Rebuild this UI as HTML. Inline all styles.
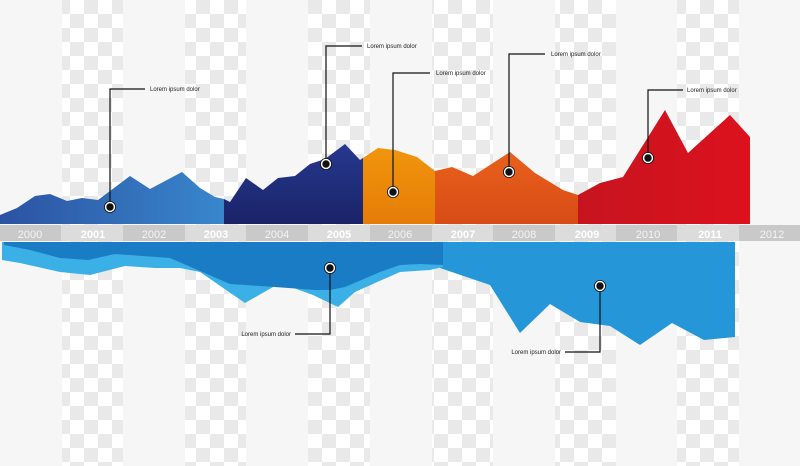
<!DOCTYPE html><html><head><meta charset="utf-8"><style>html,body{margin:0;padding:0;width:800px;height:466px;overflow:hidden;background:#f6f6f6}</style></head><body>
<svg width="800" height="466" viewBox="0 0 800 466" xmlns="http://www.w3.org/2000/svg" font-family="Liberation Sans, sans-serif">
<defs>
<pattern id="ck" x="0" y="0" width="28" height="28" patternUnits="userSpaceOnUse"><rect width="28" height="28" fill="#ffffff"/><rect width="14" height="14" fill="#e9e9e9"/><rect x="14" y="14" width="14" height="14" fill="#e9e9e9"/></pattern>
<linearGradient id="g1" x1="0" x2="1" y1="0" y2="0"><stop offset="0" stop-color="#2c52a3"/><stop offset="1" stop-color="#3887cc"/></linearGradient>
<linearGradient id="g2" x1="0" x2="0" y1="0" y2="1"><stop offset="0" stop-color="#26388e"/><stop offset="1" stop-color="#1a2368"/></linearGradient>
<linearGradient id="g3" x1="0" x2="0" y1="0" y2="1"><stop offset="0" stop-color="#f1950c"/><stop offset="1" stop-color="#e57c08"/></linearGradient>
<linearGradient id="g4" x1="0" x2="0" y1="0" y2="1"><stop offset="0" stop-color="#e8601c"/><stop offset="1" stop-color="#d84c16"/></linearGradient>
<linearGradient id="g5" x1="0" x2="1" y1="0" y2="0"><stop offset="0" stop-color="#c6141f"/><stop offset="1" stop-color="#dc121e"/></linearGradient>
</defs>
<rect width="800" height="466" fill="#f6f6f6"/>
<g fill="url(#ck)">
<rect x="62" y="0" width="61" height="466"/><rect x="185" y="0" width="61" height="466"/><rect x="308" y="0" width="62" height="466"/><rect x="432" y="0" width="61" height="466"/><rect x="555" y="0" width="61" height="466"/><rect x="677" y="0" width="62" height="466"/>
</g>
<polygon fill="url(#g1)" points="0,215 17,208 35,196 50,194 67,201 82,198 98,200 130,176 150,189 182,172 200,188 215,197 224,199 224,224 0,224"/>
<polygon fill="url(#g2)" points="224,199 230,202 246,178 263,190 278,178 295,176 310,164 325,159 345,144 360,160 363,158 363,224 224,224"/>
<polygon fill="url(#g3)" points="363,158 378,148 395,150 417,157 435,171 435,224 363,224"/>
<polygon fill="url(#g4)" points="435,171 452,167 473,176 510,152 535,173 563,190 578,195 578,224 435,224"/>
<polygon fill="url(#g5)" points="578,195 600,183 623,177 665,110 688,153 730,115 750,137 750,224 578,224"/>
<g>
<rect x="0" y="225" width="800" height="16" fill="#dcdcdc"/>
<rect x="0" y="225" width="61" height="16" fill="#c9c9c9"/><rect x="123" y="225" width="62" height="16" fill="#c9c9c9"/><rect x="246" y="225" width="62" height="16" fill="#c9c9c9"/><rect x="370" y="225" width="62" height="16" fill="#c9c9c9"/><rect x="493" y="225" width="62" height="16" fill="#c9c9c9"/><rect x="616" y="225" width="61" height="16" fill="#c9c9c9"/><rect x="739" y="225" width="61" height="16" fill="#c9c9c9"/>
</g>
<g font-size="11" fill="#f4f4f4" text-anchor="middle">
<text x="30" y="238">2000</text><text x="93" y="238" font-weight="bold" fill="#fff">2001</text><text x="154" y="238">2002</text><text x="216" y="238" font-weight="bold" fill="#fff">2003</text><text x="277" y="238">2004</text><text x="339" y="238" font-weight="bold" fill="#fff">2005</text><text x="400" y="238">2006</text><text x="463" y="238" font-weight="bold" fill="#fff">2007</text><text x="524" y="238">2008</text><text x="587" y="238" font-weight="bold" fill="#fff">2009</text><text x="648" y="238">2010</text><text x="710" y="238" font-weight="bold" fill="#fff">2011</text><text x="772" y="238">2012</text>
</g>
<polygon fill="#2597d9" points="440,242 735,242 735,337 704,340 672,323 640,345 610,326 580,322 550,304 520,333 490,285 440,268"/>
<polygon fill="#3bb0e6" points="2,242 443,242 443,267 430,270 400,272 375,283 355,292 338,307 313,295 280,283 245,303 200,272 180,268 155,268 125,266 90,275 60,272 20,263 2,260"/>
<polygon fill="#1a7cc5" points="4,242 443,242 443,265 420,264 400,265 380,272 345,287 330,290 315,290 275,287 230,284 170,258 115,254 88,260 60,258 30,250 4,245"/>
<g stroke="#111" stroke-width="1.2" fill="none">
<polyline points="110,207 110,89 145,89"/><polyline points="326,164 326,46 362,46"/><polyline points="393,192 393,73 430,73"/><polyline points="509,172 509,54 545,54"/><polyline points="648,158 648,90 683,90"/><polyline points="330,268 330,334 295,334"/><polyline points="600,286 600,352 565,352"/>
</g>
<g fill="#111" stroke="#fff" stroke-width="1.6">
<circle cx="110" cy="207" r="4.5"/><circle cx="326" cy="164" r="4.5"/><circle cx="393" cy="192" r="4.5"/><circle cx="509" cy="172" r="4.5"/><circle cx="648" cy="158" r="4.5"/><circle cx="330" cy="268" r="4.5"/><circle cx="600" cy="286" r="4.5"/>
</g>
<g fill="none" stroke="#111" stroke-width="0.8">
<circle cx="110" cy="207" r="5.6"/><circle cx="326" cy="164" r="5.6"/><circle cx="393" cy="192" r="5.6"/><circle cx="509" cy="172" r="5.6"/><circle cx="648" cy="158" r="5.6"/><circle cx="330" cy="268" r="5.6"/><circle cx="600" cy="286" r="5.6"/>
</g>
<g font-size="6" fill="#222">
<text x="150" y="91">Lorem ipsum dolor</text><text x="367" y="48">Lorem ipsum dolor</text><text x="436" y="75">Lorem ipsum dolor</text><text x="551" y="56">Lorem ipsum dolor</text><text x="687" y="92">Lorem ipsum dolor</text><text x="291" y="336" text-anchor="end">Lorem ipsum dolor</text><text x="561" y="354" text-anchor="end">Lorem ipsum dolor</text>
</g>
</svg>
</body></html>
